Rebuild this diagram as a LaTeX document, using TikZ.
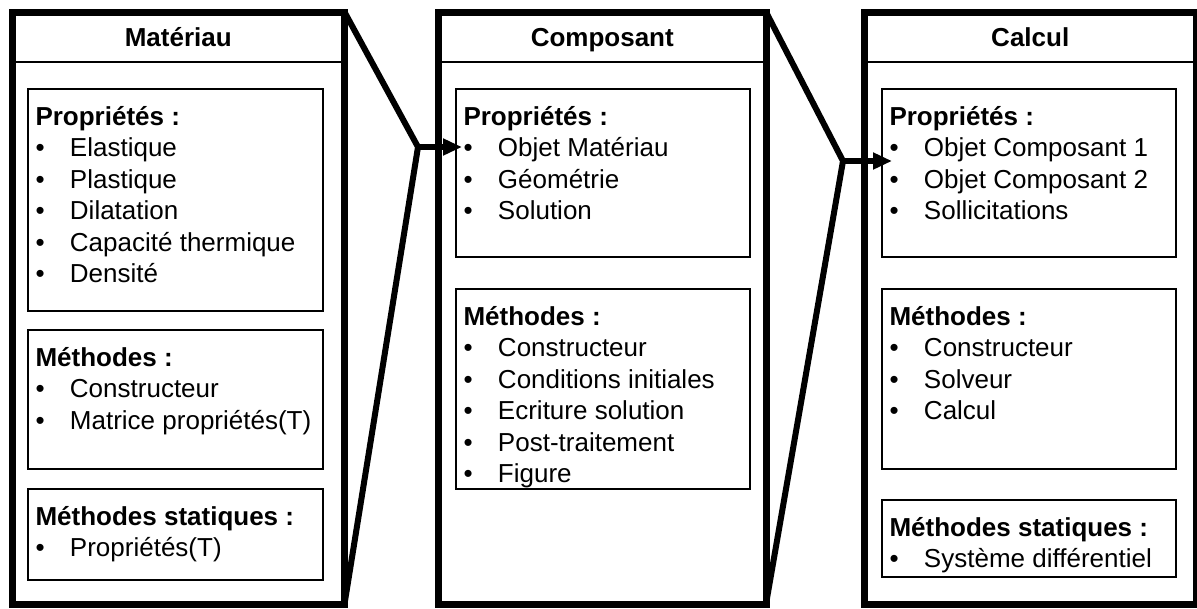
\documentclass[tikz,border=0pt]{standalone}
\usepackage{fontspec}
\setmainfont{Liberation Sans}
\usetikzlibrary{arrows.meta}
\newcommand{\blt}{\makebox[34.5pt][l]{•}}
\newcommand{\inbody}[3]{\parbox[b][#2][t]{#1}{\fontsize{26}{31.5}\selectfont\raggedright\leftskip=7.5pt\rule{0pt}{36pt}#3}}
\begin{document}
\begin{tikzpicture}[x=1pt,y=-1pt,
  outerbox/.style={draw=black, line width=7pt, inner sep=0pt, outer sep=0pt, anchor=north west, minimum height=592pt},
  inbox/.style={draw=black, line width=1.8pt, inner sep=0pt, outer sep=0pt, anchor=north west},
  hdr/.style={anchor=base, font=\fontsize{26}{30}\selectfont\bfseries, inner sep=0pt},
  sepline/.style={draw=black, line width=1.8pt},
  conn/.style={draw=black, line width=6pt},
  arr/.style={-{Triangle[length=19pt,width=16pt]}}
]
\useasboundingbox (0,0) rectangle (1197,608);

% outer class boxes
\node[outerbox, minimum width=332.5pt] (mat) at (12,12) {};
\node[outerbox, minimum width=327.5pt] (comp) at (438.5,12) {};
\node[outerbox, minimum width=331.5pt] (calc) at (864.5,12) {};

% header separators
\draw[sepline] ([yshift=-50pt]mat.north west) -- ([yshift=-50pt]mat.north east);
\draw[sepline] ([yshift=-50pt]comp.north west) -- ([yshift=-50pt]comp.north east);
\draw[sepline] ([yshift=-50pt]calc.north west) -- ([yshift=-50pt]calc.north east);

% titles
\node[hdr] (matT) at ([yshift=-34pt]mat.north) {Matériau};
\node[hdr] (compT) at ([yshift=-34pt]comp.north) {Composant};
\node[hdr] (calcT) at ([yshift=-34pt]calc.north) {Calcul};

% Matériau
\node[inbox] (matP) at (28,89) {\inbody{295pt}{222pt}{\textbf{Propriétés :}\\\blt Elastique\\\blt Plastique\\\blt Dilatation\\\blt Capacité thermique\\\blt Densité}};
\node[inbox] (matM) at (28,330) {\inbody{295pt}{139pt}{\textbf{Méthodes :}\\\blt Constructeur\\\blt Matrice propriétés(T)}};
\node[inbox] (matS) at (28,489) {\inbody{295pt}{91pt}{\textbf{Méthodes statiques :}\\\blt Propriétés(T)}};

% Composant
\node[inbox] (compP) at (456,89) {\inbody{294pt}{168pt}{\textbf{Propriétés :}\\\blt Objet Matériau\\\blt Géométrie\\\blt Solution}};
\node[inbox] (compM) at (456,289) {\inbody{294pt}{200pt}{\textbf{Méthodes :}\\\blt Constructeur\\\blt Conditions initiales\\\blt Ecriture solution\\\blt Post-traitement\\\blt Figure}};

% Calcul
\node[inbox] (calcP) at (882,89) {\inbody{294pt}{168pt}{\textbf{Propriétés :}\\\blt Objet Composant 1\\\blt Objet Composant 2\\\blt Sollicitations}};
\node[inbox] (calcM) at (882,289) {\inbody{294pt}{180pt}{\textbf{Méthodes :}\\\blt Constructeur\\\blt Solveur\\\blt Calcul}};
\node[inbox] (calcS) at (882,500) {\inbody{294pt}{77pt}{\textbf{Méthodes statiques :}\\\blt Système différentiel}};

% connectors
\coordinate (j1) at (418,147);
\coordinate (t1) at (462,147);
\coordinate (j2) at (843,161);
\coordinate (t2) at (892,161);
\draw[conn] (mat.north east) -- (j1) -- (mat.south east);
\draw[conn, arr] (j1) -- (t1);
\draw[conn] (comp.north east) -- (j2) -- (comp.south east);
\draw[conn, arr] (j2) -- (t2);
\end{tikzpicture}
\end{document}
